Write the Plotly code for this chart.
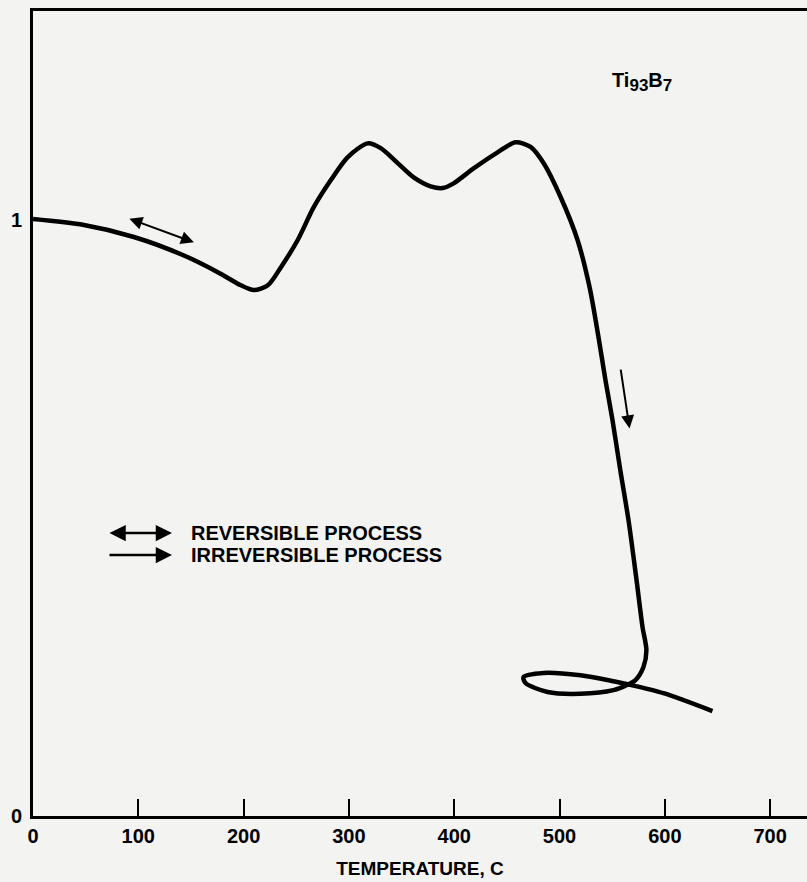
import plotly.graph_objects as go

# Curve (temperature in C, normalised value)
temperature = [0, 48.4, 95.8, 143.3, 175.5, 197.3, 209.7, 223.0, 235.3, 251.4,
               266.6, 282.7, 298.9, 317.8, 330.2, 346.3, 361.5, 377.6, 389.0, 399.4,
               418.4, 441.2, 458.3, 472.5, 484.8, 501.0, 517.1, 528.5, 537.0, 543.6,
               550.3, 557.7, 565.5, 573.1, 578.8, 582.5, 579.7, 572.1, 564.5, 551.2,
               519.9, 488.6, 467.7, 465.8, 484.8, 519.9, 551.2, 564.5, 598.7, 645.2]
value = [1.001, 0.991, 0.971, 0.940, 0.912, 0.890, 0.882, 0.890, 0.920, 0.966,
         1.021, 1.066, 1.105, 1.128, 1.120, 1.095, 1.071, 1.056, 1.053, 1.061,
         1.086, 1.113, 1.130, 1.122, 1.095, 1.038, 0.966, 0.887, 0.803, 0.731,
         0.664, 0.580, 0.496, 0.396, 0.317, 0.278, 0.250, 0.228, 0.220, 0.211,
         0.205, 0.208, 0.223, 0.233, 0.240, 0.236, 0.226, 0.221, 0.206, 0.176]

x_ticks = [0, 100, 200, 300, 400, 500, 600, 700]
y_ticks = [0, 1]
y_ticktext = ["0", "1"]

legend_labels = ["REVERSIBLE PROCESS", "IRREVERSIBLE PROCESS"]
sample_label = "Ti<sub><span style='font-size:17px'>93</span></sub>B<sub><span style='font-size:17px'>7</span></sub>"
x_title = "TEMPERATURE, C"

# arrows (tail -> head) in data units
rev_arrow = [(90.1, 1.0025), (152.8, 0.962)]
irr_arrow = [(557.9, 0.751), (566.5, 0.650)]
legend_arrow_x = [71.2, 132.0]
legend_y = [0.4745, 0.4376]
legend_text_x = 148

FONT = "Liberation Sans, Arial, sans-serif"
BG = "#f3f3f2"

fig = go.Figure()
fig.add_trace(go.Scatter(
    x=temperature, y=value, mode="lines",
    line=dict(color="black", width=4.5, shape="spline", smoothing=0.8),
    hoverinfo="skip", showlegend=False))

ann = []
ann.append(dict(x=rev_arrow[1][0], y=rev_arrow[1][1], ax=rev_arrow[0][0], ay=rev_arrow[0][1],
                xref="x", yref="y", axref="x", ayref="y", text="", showarrow=True,
                arrowhead=2, startarrowhead=2, arrowside="end+start", arrowsize=1.3,
                startarrowsize=1.3, arrowwidth=2, arrowcolor="black"))
ann.append(dict(x=irr_arrow[1][0], y=irr_arrow[1][1], ax=irr_arrow[0][0], ay=irr_arrow[0][1],
                xref="x", yref="y", axref="x", ayref="y", text="", showarrow=True,
                arrowhead=2, arrowsize=1.3, arrowwidth=2, arrowcolor="black"))
ann.append(dict(x=legend_arrow_x[1], y=legend_y[0], ax=legend_arrow_x[0], ay=legend_y[0],
                xref="x", yref="y", axref="x", ayref="y", text="", showarrow=True,
                arrowhead=2, startarrowhead=2, arrowside="end+start", arrowsize=1.3,
                startarrowsize=1.3, arrowwidth=2.5, arrowcolor="black"))
ann.append(dict(x=legend_arrow_x[1], y=legend_y[1], ax=legend_arrow_x[0], ay=legend_y[1],
                xref="x", yref="y", axref="x", ayref="y", text="", showarrow=True,
                arrowhead=2, arrowsize=1.3, arrowwidth=2.5, arrowcolor="black"))
for lbl, yy in zip(legend_labels, legend_y):
    ann.append(dict(x=legend_text_x, y=yy, xref="x", yref="y", text="<b>%s</b>" % lbl,
                    showarrow=False, xanchor="left", yanchor="middle",
                    font=dict(family=FONT, size=20, color="black")))
ann.append(dict(x=578, y=1.2305, xref="x", yref="y", text="<b>%s</b>" % sample_label,
                showarrow=False, xanchor="center", yanchor="middle",
                font=dict(family=FONT, size=20, color="black")))

fig.update_layout(
    width=807, height=882,
    margin=dict(l=33, r=0, t=11, b=66),
    paper_bgcolor=BG, plot_bgcolor=BG,
    annotations=ann,
    xaxis=dict(range=[0, 735], showline=True, linecolor="black", linewidth=3,
               mirror=True, ticks="inside", ticklen=17, tickwidth=2, tickcolor="black",
               tickvals=x_ticks, showgrid=False, zeroline=False, automargin=False,
               tickfont=dict(family=FONT, size=20, color="black", weight="bold"),
               title=dict(text="<b>%s</b>" % x_title, standoff=16,
                          font=dict(family=FONT, size=19, color="black"))),
    yaxis=dict(range=[0, 1.35], showline=True, linecolor="black", linewidth=3,
               ticks="", tickvals=y_ticks, ticktext=y_ticktext, showgrid=False,
               zeroline=False, ticklabelstandoff=4, automargin=False,
               tickfont=dict(family=FONT, size=20, color="black", weight="bold")),
)

fig.write_html("out.html",
               config={"displayModeBar": False},
               post_script="document.body.style.margin='0';"
                           "document.body.style.background='%s';" % BG)
